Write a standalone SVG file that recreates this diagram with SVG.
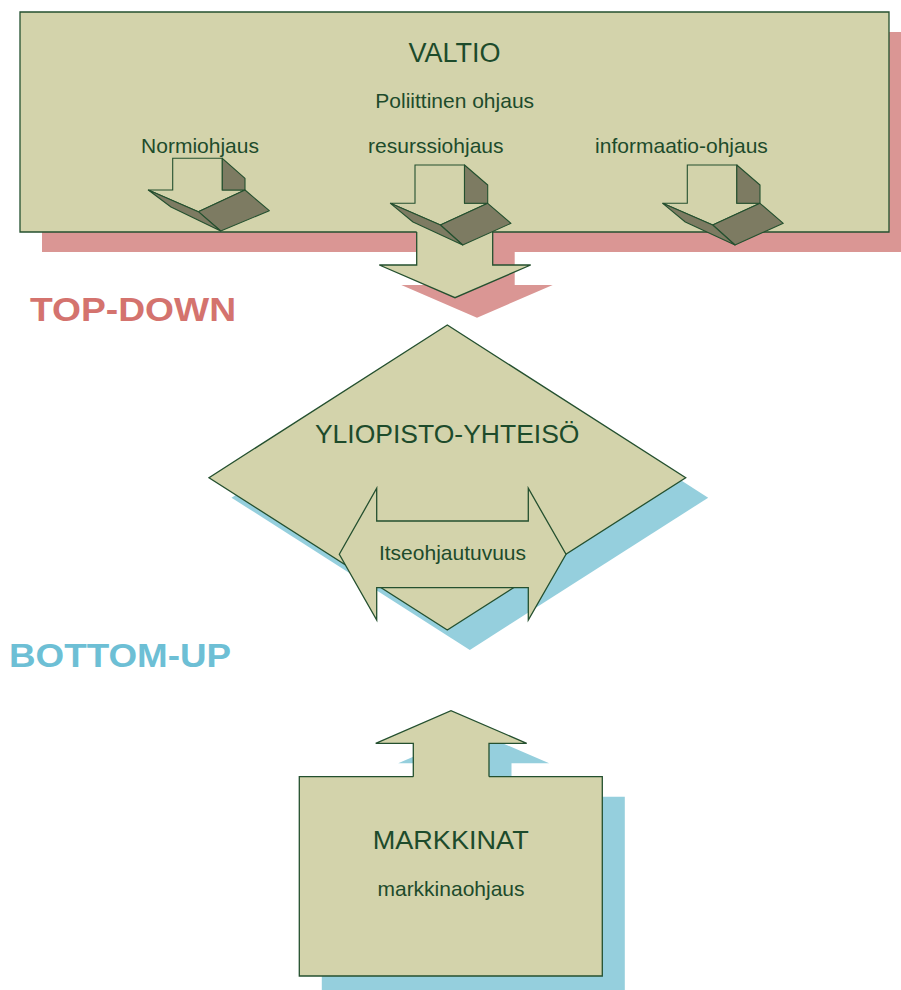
<svg xmlns="http://www.w3.org/2000/svg" xmlns:xlink="http://www.w3.org/1999/xlink" width="901" height="990" viewBox="0 0 901 990">
<style>
.fill{fill:#D3D3AB;stroke:none}
.edge{fill:#D3D3AB;stroke:#24502F;stroke-width:1.3;stroke-linejoin:miter}
.line{fill:none;stroke:#24502F;stroke-width:1.3}
.dark{fill:#7D7B62;stroke:#24502F;stroke-width:1.1;stroke-linejoin:round}
.front{fill:#D3D3AB;stroke:#24502F;stroke-width:1.1}
.pink{fill:#DA9694}
.blue{fill:#95CFDD}
.t{font-family:"Liberation Sans",Arial,sans-serif;fill:#1D4B2B;text-anchor:middle}
.lbl{font-family:"Liberation Sans",Arial,sans-serif;font-weight:bold;font-size:34px}
</style>
<defs>
<g id="smallArrow">
<polygon class="front" points="0,0 49.5,0 49.5,38.3 72.7,38.3 25.4,60 -24.6,38.3 0,38.3"/>
<polygon class="dark" points="49.5,0 72.7,20 72.7,38.3 49.5,38.3"/>
<polygon class="dark" points="25.4,60 72.7,38.3 96,58.3 47.7,80"/>
<polygon class="dark" points="-24.6,38.3 25.4,60 47.7,80 -2,57"/>
</g>
</defs>
<g id="shadows">
<path class="pink" d="M42,32 H911 V252 H514.7 V285 H552.7 L477,317.7 L401.3,285 H438.7 V252 H42 Z"/>
<polygon class="blue" points="469.8,345 231.5,497.7 469.8,650 708.2,497.7"/>
<path class="blue" d="M321.8,996 V796.7 H435.8 V763.3 H398.2 L473.5,730.7 L549.2,763.3 H511.5 V796.7 H624.8 V996 Z"/>
</g>
<g id="connectors">
<path class="edge" d="M416.7,231 V265 H379.3 L455,297.7 L530.7,265 H492.7 V231"/>
<path class="edge" d="M413.3,777.5 V743.3 H375.7 L451,710.7 L526.7,743.3 H489 V777.5"/>
</g>
<g id="valtio">
<rect class="fill" x="20" y="12" width="869" height="220"/>
<path class="line" d="M416.7,232 H20 V12 H889 V232 H492.7"/>
<text class="t" x="454.5" y="62" font-size="27">VALTIO</text>
<text class="t" x="454.7" y="108" font-size="21">Poliittinen ohjaus</text>
<text class="t" x="200" y="153" font-size="21">Normiohjaus</text>
<text class="t" x="435.8" y="153" font-size="21">resurssiohjaus</text>
<text class="t" x="681.5" y="153" font-size="21">informaatio-ohjaus</text>
<g id="arrow-normi">
<polygon class="front" points="172.7,158.3 222.3,158.3 222.3,190 245,190 198.3,211.7 148.3,190 172.7,190"/>
<polygon class="dark" points="222.3,158.3 245,178.3 245,190 222.3,190"/>
<polygon class="dark" points="198.3,211.7 245,190 269.3,210.7 220.7,231"/>
<polygon class="dark" points="148.3,190 198.3,211.7 220.7,231 171,207"/>
</g>
<use id="arrow-resurssi" xlink:href="#smallArrow" transform="translate(415,165)"/>
<use id="arrow-informaatio" xlink:href="#smallArrow" transform="translate(687.3,165)"/>
</g>
<g id="yliopisto">
<polygon class="edge" points="447.3,325 209,477.7 447.3,630 685.7,477.7"/>
<text class="t" x="447.2" y="443" font-size="26.5">YLIOPISTO-YHTEISÖ</text>
</g>
<g id="itseohjautuvuus">
<polygon class="edge" points="339.3,554.3 376.7,488.3 376.7,521 528.3,521 528.3,488.3 566,554.3 528.3,620 528.3,587.7 376.7,587.7 376.7,620"/>
<text class="t" x="452.5" y="560" font-size="21">Itseohjautuvuus</text>
</g>
<g id="markkinat">
<rect class="fill" x="299.3" y="776.7" width="303" height="199.3"/>
<path class="line" d="M413.3,776.7 H299.3 V976 H602.3 V776.7 H489"/>
<text class="t" x="450.7" y="849" font-size="25" textLength="156" lengthAdjust="spacingAndGlyphs">MARKKINAT</text>
<text class="t" x="451" y="896" font-size="21">markkinaohjaus</text>
</g>
<g id="labels">
<text class="lbl" x="30" y="321" fill="#D4736E" textLength="206" lengthAdjust="spacingAndGlyphs">TOP-DOWN</text>
<text class="lbl" x="9" y="667" fill="#6DBFD5" textLength="222" lengthAdjust="spacingAndGlyphs">BOTTOM-UP</text>
</g>
</svg>
